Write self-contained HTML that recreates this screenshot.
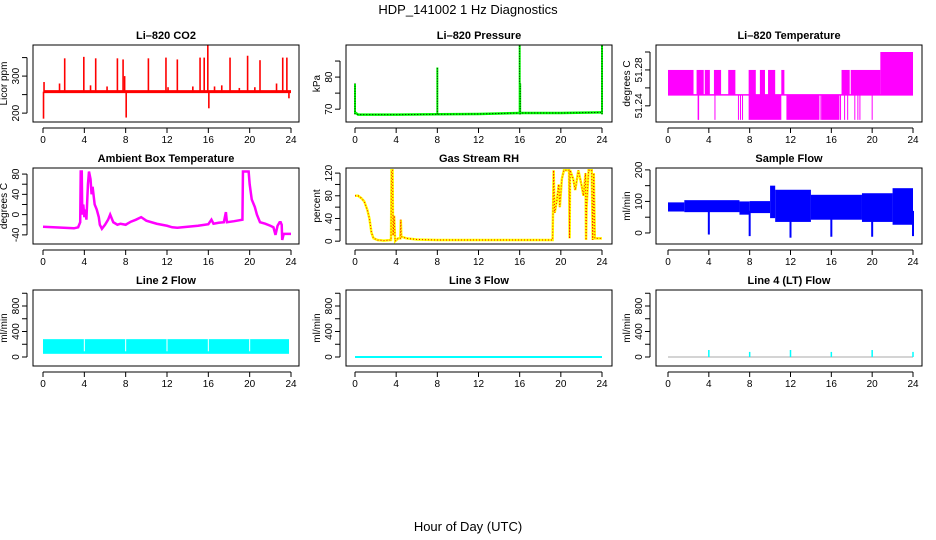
<!DOCTYPE html>
<html><head><meta charset="utf-8"><style>
body{margin:0;background:#fff}
svg{display:block;font-family:"Liberation Sans",Helvetica,sans-serif}
</style></head><body>
<svg id="c" width="936" height="540" viewBox="0 0 936 540">
<text x="468" y="14" text-anchor="middle" font-size="13">HDP_141002  1 Hz Diagnostics</text>
<text x="468" y="531" text-anchor="middle" font-size="13">Hour of Day (UTC)</text>
</svg>
<script>
const xTicks=[0,4,8,12,16,20,24];
// CO2
const co2Base=258;
const co2SpikeHours=[0.05,0.1,1.6,2.1,3.95,4.6,5.1,6.2,7.2,7.75,7.9,8.05,10.2,11.9,12.1,13.0,14.5,15.2,15.6,15.95,16.05,16.6,17.3,18.1,19.0,19.8,20.5,21.0,22.6,23.2,23.6,23.8];
const co2SpikeVals=[185,284,280,348,352,275,348,272,348,345,300,188,348,350,270,345,272,350,350,385,213,272,275,350,268,355,270,343,280,350,350,240];
// Pressure
const presHours=[0,8,16,16.05,24];
const presPeaks=[78,83,90,78,90];
const presBaseHours=[0,0.3,4,8,12,16,20,24];
const presBaseVals=[69,68.3,68.3,68.4,68.5,68.8,68.8,69];
// Li-820 temperature
const tBlockStart=[0,2.8,3.6,4.5,5.9,7.9,9.0,9.8,11.1,17.0,17.9,20.8,7.9,11.6,15.0];
const tBlockEnd=[2.5,3.5,4.1,5.2,6.6,8.6,9.5,10.5,11.4,17.8,20.8,24,11.1,14.8,16.8];
const tBlockLo=[51.2522,51.2522,51.2522,51.2522,51.2522,51.2522,51.2522,51.2522,51.2522,51.2522,51.2522,51.2522,51.2244,51.2244,51.2244];
const tBlockHi=[51.28,51.28,51.28,51.28,51.28,51.28,51.28,51.28,51.28,51.28,51.28,51.30,51.2522,51.2522,51.2522];
const tLineHours=[2.95,3.0,4.6,6.9,7.1,7.3,14.9,16.9,17.3,17.6,18.3,18.6,18.8,20.0];
const tLineLo=[51.2244,51.2244,51.2244,51.2244,51.2244,51.2244,51.2244,51.2244,51.2244,51.2244,51.2244,51.2244,51.2244,51.2244];
// Ambient box temperature
const ambHours=[0,1,2,3,3.4,3.6,3.65,3.75,3.8,3.9,4.0,4.1,4.2,4.35,4.45,4.6,4.7,4.8,5.0,5.2,5.4,5.5,5.7,6.0,6.3,6.5,6.8,7.2,7.5,8,8.5,9,9.5,10,11,12,12.5,13,14,15,16,16.3,16.5,17,17.5,17.7,17.8,18.5,19.3,19.35,19.9,20,20.2,20.5,20.7,21,21.5,22,22.3,22.5,22.7,22.9,23.0,23.1,23.15,23.3,24];
const ambVals=[-24,-25,-26,-27,-25,-15,85,85,0,20,-5,10,-10,60,85,70,40,55,20,10,-5,-20,-28,-20,-10,0,-15,-20,-18,-20,-14,-10,-5,-12,-18,-22,-25,-26,-24,-22,-19,-10,-18,-16,-15,5,-15,-13,-10,85,85,60,30,15,0,-15,-18,-22,-25,-40,-22,-15,-15,-20,-50,-38,-38];
// Gas stream RH
const rhHours=[0,0.3,0.6,0.9,1.2,1.4,1.6,1.8,2.2,2.8,3.5,3.55,3.65,3.7,3.8,3.9,4.2,4.4,4.45,4.5,5,6,8,10,12,16,19.2,19.3,19.4,19.6,19.8,19.9,20.1,20.3,20.8,20.85,20.9,21.2,21.4,21.7,22,22.2,22.4,22.45,22.5,22.7,23,23.1,23.2,23.3,24];
const rhVals=[80,80,76,70,55,40,15,5,2,1,2,125,125,10,45,0,5,5,38,8,5,3,2,2,2,2,2,125,50,70,100,60,110,125,125,5,125,110,90,125,100,80,120,2,60,125,125,2,120,5,5];
// Sample flow
const sfStart=[0,1.6,7,8,10,10.5,14,19,22];
const sfEnd=[1.6,7,8,10,10.5,14,19,22,24];
const sfLo=[68,66,58,63,47,35,42,35,26];
const sfHi=[97,104,100,101,150,137,121,126,142];
const sfDipHours=[4,8,12,16,20,24];
const sfDipVals=[-5,-10,-15,-12,-12,-10];
// Line flows
const l2Lo=50, l2Hi=280;
const l2GapHours=[4,8,12,16,20];
const l4SpikeHours=[4,8,12,16,20,24];
const l4SpikeVals=[110,80,110,80,110,80];

const NS="http://www.w3.org/2000/svg";
const svg=document.getElementById('c');
function el(tag,attrs,parent){const e=document.createElementNS(NS,tag);for(const k in attrs)e.setAttribute(k,attrs[k]);(parent||svg).appendChild(e);return e;}

function panel(cfg){
  const g=el('g',{});
  
  
  const xs=h=>cfg.x0+(h/24)*(cfg.x24-cfg.x0);
  const ys=v=>cfg.bottom-(v-cfg.ymin)/(cfg.ymax-cfg.ymin)*(cfg.bottom-cfg.top);
  const t=el('text',{x:(cfg.left+cfg.right)/2,y:cfg.top-6,'text-anchor':'middle','font-size':'11','font-weight':'bold'},g);
  t.textContent=cfg.title;
  
  
  const plot=el('g',{},g);
  
  
  cfg.draw(plot,xs,ys);
  el('rect',{x:cfg.left,y:cfg.top,width:cfg.right-cfg.left,height:cfg.bottom-cfg.top,fill:'none',stroke:'#000','stroke-width':1},g);
  const xa=el('g',{},g);
  
  
  el('line',{x1:xs(0),x2:xs(24),y1:cfg.bottom+6,y2:cfg.bottom+6,stroke:'#000'},xa);
  xTicks.forEach(h=>{
    el('line',{x1:xs(h),x2:xs(h),y1:cfg.bottom+6,y2:cfg.bottom+11,stroke:'#000'},xa);
    const tx=el('text',{x:xs(h),y:cfg.bottom+21,'text-anchor':'middle','font-size':'10'},xa);
    tx.textContent=h;
  });
  const ya=el('g',{},g);
  
  
  const ax=cfg.left-6;
  el('line',{x1:ax,x2:ax,y1:ys(cfg.yticks[0]),y2:ys(cfg.yticks[cfg.yticks.length-1]),stroke:'#000'},ya);
  cfg.yticks.forEach(v=>{el('line',{x1:ax-5,x2:ax,y1:ys(v),y2:ys(v),stroke:'#000'},ya);});
  cfg.ylabels.forEach(v=>{
    const tx=el('text',{x:0,y:0,'text-anchor':'middle','font-size':'10',transform:`translate(${ax-8},${ys(v)}) rotate(-90)`},ya);
    tx.textContent=cfg.fmt?cfg.fmt(v):v;
  });
  const yl=el('text',{x:0,y:0,'text-anchor':'middle','font-size':'10',transform:`translate(${cfg.left-26},${(cfg.top+cfg.bottom)/2}) rotate(-90)`},g);
  yl.textContent=cfg.ytitle;
  
  
}
const C1={left:33,right:299,x0:43,x24:291};
const C2={left:346,right:612,x0:355,x24:602};
const C3={left:656,right:922,x0:668,x24:913};
const R1={top:45,bottom:122},R2={top:168,bottom:244},R3={top:290,bottom:366};

panel({...C1,...R1,name:'panel-co2',title:'Li\u2013820 CO2',ytitle:'Licor ppm',ymin:176,ymax:384,yticks:[200,250,300,350],ylabels:[200,300],
 draw:(g,xs,ys)=>{
  el('line',{x1:xs(0.05),x2:xs(24),y1:ys(co2Base),y2:ys(co2Base),stroke:'#f00','stroke-width':3},g);
  co2SpikeHours.forEach((h,i)=>el('line',{x1:xs(h),x2:xs(h),y1:ys(co2Base),y2:ys(co2SpikeVals[i]),stroke:'#f00','stroke-width':1.6},g));
 }});
panel({...C2,...R1,name:'panel-pressure',title:'Li\u2013820 Pressure',ytitle:'kPa',ymin:66,ymax:90,yticks:[70,75,80,85],ylabels:[70,80],
 draw:(g,xs,ys)=>{
  const pts=presBaseHours.map((h,i)=>xs(h)+','+ys(presBaseVals[i])).join(' ');
  el('polyline',{points:pts,fill:'none',stroke:'#0f0','stroke-width':2.5},g);
  el('polyline',{points:pts,fill:'none',stroke:'#000','stroke-width':1,'stroke-dasharray':'1,2'},g);
  presHours.forEach((h,i)=>{
   el('line',{x1:xs(h),x2:xs(h),y1:ys(68.4),y2:ys(presPeaks[i]),stroke:'#0f0','stroke-width':2},g);
   el('line',{x1:xs(h),x2:xs(h),y1:ys(68.4),y2:ys(presPeaks[i]),stroke:'#000','stroke-width':1,'stroke-dasharray':'1,1.5'},g);
  });
 }});
panel({...C3,...R1,name:'panel-licor-temp',title:'Li\u2013820 Temperature',ytitle:'degrees C',ymin:51.222,ymax:51.3078,yticks:[51.24,51.26,51.28,51.30],ylabels:[51.24,51.28],fmt:v=>v.toFixed(2),
 draw:(g,xs,ys)=>{
  tBlockStart.forEach((s,i)=>el('rect',{x:xs(s),y:ys(tBlockHi[i]),width:xs(tBlockEnd[i])-xs(s),height:ys(tBlockLo[i])-ys(tBlockHi[i]),fill:'#f0f'},g));
  el('line',{x1:xs(0),x2:xs(24),y1:ys(51.2522),y2:ys(51.2522),stroke:'#f0f','stroke-width':1.5},g);
  tLineHours.forEach((h,i)=>el('line',{x1:xs(h),x2:xs(h),y1:ys(tLineLo[i]),y2:ys(51.2522),stroke:'#f0f','stroke-width':1},g));
 }});
panel({...C1,...R2,name:'panel-ambient-temp',title:'Ambient Box Temperature',ytitle:'degrees C',ymin:-58,ymax:92,yticks:[-40,-20,0,20,40,60,80],ylabels:[-40,0,40,80],
 draw:(g,xs,ys)=>{
  el('polyline',{points:ambHours.map((h,i)=>xs(h)+','+ys(ambVals[i])).join(' '),fill:'none',stroke:'#f0f','stroke-width':2.5},g);
 }});
panel({...C2,...R2,name:'panel-rh',title:'Gas Stream RH',ytitle:'percent',ymin:-5,ymax:129,yticks:[0,20,40,60,80,100,120],ylabels:[0,40,80,120],
 draw:(g,xs,ys)=>{
  const pts=rhHours.map((h,i)=>xs(h)+','+ys(rhVals[i])).join(' ');
  el('polyline',{points:pts,fill:'none',stroke:'#ff0','stroke-width':2.5},g);
  el('polyline',{points:pts,fill:'none',stroke:'#f00','stroke-width':1,'stroke-dasharray':'1,2'},g);
 }});
panel({...C3,...R2,name:'panel-sample-flow',title:'Sample Flow',ytitle:'ml/min',ymin:-35,ymax:206,yticks:[0,50,100,150,200],ylabels:[0,100,200],
 draw:(g,xs,ys)=>{
  sfStart.forEach((s,i)=>el('rect',{x:xs(s),y:ys(sfHi[i]),width:xs(sfEnd[i])-xs(s),height:ys(sfLo[i])-ys(sfHi[i]),fill:'#00f'},g));
  sfDipHours.forEach((h,i)=>el('line',{x1:xs(h),x2:xs(h),y1:ys(70),y2:ys(sfDipVals[i]),stroke:'#00f','stroke-width':2},g));
 }});
panel({...C1,...R3,name:'panel-line2-flow',title:'Line 2 Flow',ytitle:'ml/min',ymin:-141,ymax:1051,yticks:[0,200,400,600,800,1000],ylabels:[0,400,800],
 draw:(g,xs,ys)=>{
  el('rect',{x:xs(0),y:ys(l2Hi),width:xs(24)-xs(0)-2,height:ys(l2Lo)-ys(l2Hi),fill:'#0ff'},g);
  l2GapHours.forEach(h=>el('line',{x1:xs(h),x2:xs(h),y1:ys(l2Hi),y2:ys(l2Lo+40),stroke:'#fff','stroke-width':1},g));
 }});
panel({...C2,...R3,name:'panel-line3-flow',title:'Line 3 Flow',ytitle:'ml/min',ymin:-141,ymax:1051,yticks:[0,200,400,600,800,1000],ylabels:[0,400,800],
 draw:(g,xs,ys)=>{
  el('line',{x1:xs(0),x2:xs(24),y1:ys(0),y2:ys(0),stroke:'#0ff','stroke-width':2},g);
 }});
panel({...C3,...R3,name:'panel-line4-flow',title:'Line 4 (LT) Flow',ytitle:'ml/min',ymin:-141,ymax:1051,yticks:[0,200,400,600,800,1000],ylabels:[0,400,800],
 draw:(g,xs,ys)=>{
  el('line',{x1:xs(0),x2:xs(24),y1:ys(0),y2:ys(0),stroke:'#aaa','stroke-width':1},g);
  l4SpikeHours.forEach((h,i)=>el('line',{x1:xs(h),x2:xs(h),y1:ys(0),y2:ys(l4SpikeVals[i]),stroke:'#0ff','stroke-width':1.5},g));
 }});
</script>
</body></html>
